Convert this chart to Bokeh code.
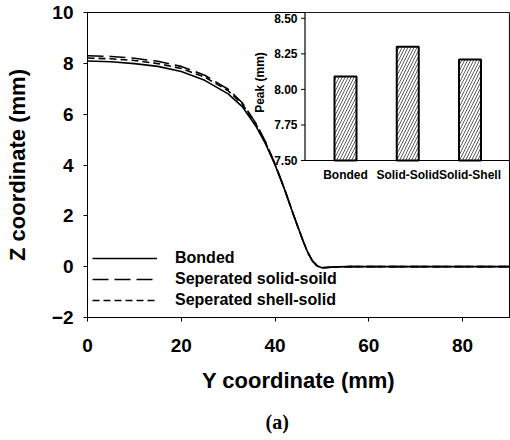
import math
from bokeh.plotting import figure
from bokeh.models import Range1d, Legend, LegendItem, Title, FixedTicker
from bokeh.core.properties import value
from bokeh.embed import file_html
from bokeh.resources import INLINE

# ---------------- data ----------------
y_coord = [0, 5, 10, 15, 20, 25, 30, 33, 36, 38, 40, 42, 44, 46, 47, 48, 49, 50, 51, 53, 56, 60, 70, 80, 90]
bonded = [8.09, 8.06, 7.99, 7.88, 7.68, 7.33, 6.80, 6.30, 5.50, 4.82, 4.00, 3.05, 2.00, 1.00, 0.55, 0.22, 0.03, -0.04, -0.03, -0.01, 0.0, 0.0, 0.0, 0.0, 0.0]
solid_solid = [8.30, 8.27, 8.20, 8.08, 7.88, 7.53, 6.98, 6.45, 5.62, 4.90, 4.04, 3.07, 2.00, 1.00, 0.55, 0.22, 0.03, -0.04, -0.03, -0.01, 0.0, 0.0, 0.0, 0.0, 0.0]
shell_solid = [8.21, 8.18, 8.11, 7.99, 7.80, 7.46, 6.92, 6.40, 5.58, 4.87, 4.02, 3.06, 2.00, 1.00, 0.55, 0.22, 0.03, -0.04, -0.03, -0.01, 0.0, 0.0, 0.0, 0.0, 0.0]

series_labels = ["Bonded", "Seperated solid-soild", "Seperated shell-solid"]

x_ticks = [0, 20, 40, 60, 80]
y_ticks = [-2, 0, 2, 4, 6, 8, 10]

peak_categories = ["Bonded", "Solid-Solid", "Solid-Shell"]
peak_values = [8.09, 8.30, 8.21]
peak_ticks = [7.50, 7.75, 8.00, 8.25, 8.50]
peak_tick_labels = ["7.50", "7.75", "8.00", "8.25", "8.50"]
peak_base = 7.50

# ---------------- layout constants (pixels) ----------------
FONT = "Liberation Sans"
FRAME_W, FRAME_H = 422, 305
INSET_LEFT_PX = 217.5
INSET_C0_PX = 258.0
INSET_STEP_PX = 62.25
INSET_BASE_PX = 148.0
INSET_TOP_TICK_PX = 5.8
ppu_y = (INSET_BASE_PX - INSET_TOP_TICK_PX) / (peak_ticks[-1] - peak_ticks[0])

ix0 = -INSET_C0_PX / INSET_STEP_PX
ix1 = (FRAME_W - INSET_C0_PX) / INSET_STEP_PX
iy1 = peak_ticks[-1] + INSET_TOP_TICK_PX / ppu_y
iy0 = peak_base - (FRAME_H - INSET_BASE_PX) / ppu_y
inset_left = (INSET_LEFT_PX - INSET_C0_PX) / INSET_STEP_PX
px_x = 1.0 / INSET_STEP_PX
px_y = 1.0 / ppu_y

p = figure(frame_width=FRAME_W, frame_height=FRAME_H,
           x_range=Range1d(0, 90), y_range=Range1d(-2, 10),
           output_backend="svg", toolbar_location=None,
           min_border_left=87, min_border_right=1, min_border_top=12, min_border_bottom=123,
           background_fill_color="white", border_fill_color="white")
p.extra_x_ranges = {"inset": Range1d(ix0, ix1)}
p.extra_y_ranges = {"inset": Range1d(iy0, iy1)}

p.grid.visible = False
p.outline_line_color = "black"
p.outline_line_width = 1

for ax in (p.xaxis[0], p.yaxis[0]):
    ax.axis_line_color = "black"
    ax.major_tick_line_color = "black"
    ax.major_tick_out = 4
    ax.major_tick_in = 0
    ax.minor_tick_line_color = None
    ax.major_label_text_font = FONT
    ax.major_label_text_font_style = "bold"
    ax.major_label_text_font_size = "19px"
    ax.major_label_text_color = "black"
    ax.axis_label_text_font = FONT
    ax.axis_label_text_font_style = "bold"
    ax.axis_label_text_font_size = "22px"
    ax.axis_label_text_color = "black"

p.xaxis.ticker = FixedTicker(ticks=x_ticks)
p.yaxis.ticker = FixedTicker(ticks=y_ticks)
p.xaxis.axis_label = "Y coordinate (mm)"
p.yaxis.axis_label = "Z coordinate (mm)"
p.xaxis.major_label_standoff = 17
p.xaxis.axis_label_standoff = 13
p.yaxis.major_label_standoff = 10
p.yaxis.axis_label_standoff = 19

r1 = p.line(y_coord, bonded, line_color="black", line_width=1.6)
r2 = p.line(y_coord, solid_solid, line_color="black", line_width=1.6, line_dash="16 6")
r3 = p.line(y_coord, shell_solid, line_color="black", line_width=1.6, line_dash="7 4")

legend = Legend(items=[LegendItem(label=series_labels[0], renderers=[r1]),
                       LegendItem(label=series_labels[1], renderers=[r2]),
                       LegendItem(label=series_labels[2], renderers=[r3])],
                location=(-1, 1), padding=6, margin=0, spacing=1,
                glyph_width=65, glyph_height=20, label_height=20, label_standoff=18,
                label_text_font=FONT, label_text_font_style="bold", label_text_font_size="16px",
                label_text_color="black",
                background_fill_alpha=0, border_line_alpha=0)
p.add_layout(legend, "center")

# ---------------- inset ----------------
kw = dict(x_range_name="inset", y_range_name="inset")
p.quad(left=[inset_left], right=[ix1], bottom=[peak_base], top=[iy1],
       fill_color="white", line_color="black", line_width=1.2, **kw)
p.vbar(x=list(range(len(peak_categories))), width=22 * px_x, bottom=peak_base, top=peak_values,
       fill_color="white", line_color="black", line_width=2,
       hatch_pattern="/", hatch_color="#333333", hatch_scale=6, hatch_weight=0.8, **kw)
p.segment(x0=[inset_left] * len(peak_ticks), x1=[inset_left - 4 * px_x] * len(peak_ticks),
          y0=peak_ticks, y1=peak_ticks, line_color="black", line_width=1, **kw)
p.text(x=[inset_left - 7.5 * px_x] * len(peak_ticks), y=peak_ticks, text=peak_tick_labels,
       text_align="right", text_baseline="middle", text_font=value(FONT),
       text_font_style="bold", text_font_size="12px", text_color="black", **kw)
p.text(x=list(range(len(peak_categories))), y=[peak_base - 14 * px_y] * len(peak_categories),
       text=peak_categories, text_align="center", text_baseline="middle", text_font=value(FONT),
       text_font_style="bold", text_font_size="12px", text_color="black", **kw)
p.text(x=[inset_left - 45.5 * px_x], y=[peak_base + 78 * px_y], text=["Peak (mm)"], angle=math.pi / 2,
       text_align="center", text_baseline="middle", text_font=value(FONT),
       text_font_style="bold", text_font_size="12px", text_color="black", **kw)

# ---------------- caption ----------------
cap = Title(text="(a)", align="left", offset=178, text_font="Liberation Serif",
            text_font_style="bold", text_font_size="20px", text_color="black", standoff=27)
p.add_layout(cap, "below")

open("out.html", "w").write(file_html(p, INLINE))
